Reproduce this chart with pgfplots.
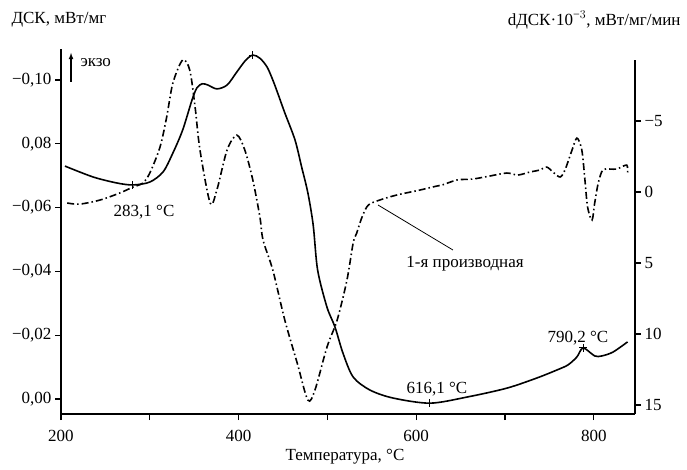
\documentclass[border=0pt]{standalone}
\usepackage{fontspec}
\setmainfont{Liberation Serif}
\usepackage{pgfplots}
\pgfplotsset{compat=1.18}

\pgfplotstableread{
x y
204.5 -0.0730
236 -0.0696
263 -0.0677
281 -0.0671
300 -0.0680
315 -0.0712
326 -0.0771
337 -0.0843
347.5 -0.0937
353 -0.0975
359 -0.0988
365.5 -0.0984
375.5 -0.0972
387 -0.0984
398 -0.1025
408 -0.1062
416 -0.1078
424 -0.1068
432 -0.1041
438.5 -0.1000
444 -0.0959
452 -0.0897
463.5 -0.0812
471 -0.0727
478 -0.0646
484 -0.0545
489 -0.0404
499.5 -0.0288
508.5 -0.0226
517.5 -0.0144
529 -0.0069
548 -0.0028
574 -0.0003
615.5 0.0013
657 -0.0006
702 -0.0034
736 -0.0066
758.5 -0.0091
771 -0.0107
781 -0.0132
788 -0.0160
801 -0.0135
809 -0.0135
821.5 -0.0147
838 -0.0179
}\dsc

\pgfplotstableread{
x y
207 0.77
221 0.85
244 0.56
266 0.07
281 -0.35
292 -0.63
300 -1.34
311.5 -3.17
319 -5.28
326 -7.68
337 -9.30
345 -8.59
351 -5.99
356.5 -2.96
368 0.77
375.5 -0.14
387 -2.96
398 -4.01
407 -2.96
416 -0.85
424 1.76
427.5 3.38
438.5 5.49
452 9.01
466 12.04
478 14.65
486 13.94
499.5 10.92
511 9.01
522 6.20
529 3.59
533 2.89
539 1.76
546 0.92
559 0.56
578 0.21
604 -0.14
623 -0.42
629 -0.49
646 -0.85
664 -0.92
683 -1.13
702 -1.34
714.5 -1.20
728 -1.41
739 -1.55
747 -1.76
754 -1.41
762 -1.06
767.5 -1.55
775.5 -2.96
781 -3.80
786.5 -2.96
790 -0.85
793 1.06
798 1.97
801 0.77
805 -0.63
810 -1.55
818 -1.62
826 -1.62
837 -1.90
838 -1.34
}\deriv

\begin{document}
\begin{tikzpicture}[x=1pt,y=1pt,font=\fontsize{17}{20}\selectfont]
\useasboundingbox (0,0) rectangle (687,469);
\begin{axis}[
  at={(61pt,55pt)}, anchor=south west,
  scale only axis, width=574pt, height=365pt,
  xmin=200, xmax=846.4, ymin=-0.1097, ymax=0.0047, y dir=reverse,
  axis x line=bottom, axis y line=left,
  axis line style={-, line width=1.2pt},
  xtick={200,300,400,500,600,700,800},
  xticklabels={200,,400,,600,,800},
  ytick={-0.10,-0.08,-0.06,-0.04,-0.02,0},
  yticklabels={{−0,10},{0,08},{−0,06},{−0,04},{−0,02},{0,00}},
  tick align=outside, major tick length=6pt,
  tick style={line width=1.2pt, black},
  xticklabel style={yshift=-7pt},
  clip=false,
]
\addplot[black, line width=1.6pt, smooth, tension=0.5] table[x=x,y=y] {\dsc};
\addplot[black, only marks, mark=+, mark size=4pt, mark options={line width=1pt}] coordinates {(281,-0.0671) (416,-0.1078) (615.5,0.0013) (788,-0.0160)};
\node at (axis cs:293.5,-0.0586) {283,1 °С};
\node at (axis cs:623.4,-0.0031) {616,1 °С};
\node at (axis cs:782,-0.0191) {790,2 °С};
\node at (axis cs:655,-0.0423) {1-я производная};
\draw[black, line width=0.8pt] (axis cs:557,-0.0608) -- (axis cs:641.4,-0.0467);
\draw[-latex, line width=1.2pt] (axis cs:211.3,-0.0994) -- (axis cs:211.3,-0.1085);
\node[anchor=west] at (axis cs:218,-0.1053) {экзо};
\end{axis}
\begin{axis}[
  at={(61pt,55pt)}, anchor=south west,
  scale only axis, width=574pt, height=354pt,
  xmin=200, xmax=846.4, ymin=-9.30, ymax=15.63, y dir=reverse,
  axis x line=none, axis y line=right,
  axis line style={-, line width=1.2pt},
  ytick={-5,0,5,10,15},
  yticklabels={{−5},{0},{5},{10},{15}},
  tick align=outside, major tick length=6pt,
  tick style={line width=1.2pt, black},
  clip=false,
]
\addplot[black, line width=1.6pt, smooth, tension=0.5, dash pattern=on 7pt off 3pt on 1.5pt off 3pt] table[x=x,y=y] {\deriv};
\end{axis}
\node[anchor=west] at (8,449) {ДСК, мВт/мг};
\node[anchor=east] at (684,449) {dДСК·10$^{−3}$, мВт/мг/мин};
\node at (345,12) {Температура, °С};
\end{tikzpicture}
\end{document}
